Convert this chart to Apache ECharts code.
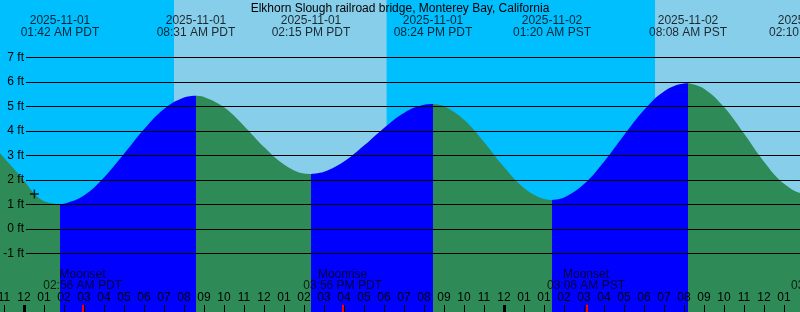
<!DOCTYPE html>
<html>
<head>
<meta charset="utf-8">
<script src="https://cdn.jsdelivr.net/npm/echarts@6/dist/echarts.min.js"></script>
<style>
html, body { margin: 0; padding: 0; background: #fff; }
#tideChart { width: 800px; height: 312px; }
</style>
</head>
<body>
<div id="tideChart"></div>
<script>
//  hours counted from 2025-11-01 00:00 PDT
const tideHours = [-2, -1, 0, 0.5, 1, 1.8, 2, 3, 4, 5, 6, 7, 8, 8.6, 9, 10, 11, 12, 13, 14, 14.35,
    15, 16, 17, 18, 19, 20, 20.45, 21, 22, 23, 24, 25, 26, 26.4, 27, 28, 29, 30, 31, 32, 33, 33.2,
    34, 35, 36, 37, 38, 39, 39.2];
const tideFeet = [3.85, 2.9, 1.97, 1.45, 1.13, 1.0, 1.02, 1.36, 2.09, 3.06, 4.06, 4.89, 5.36, 5.43, 5.38, 4.96, 4.2, 3.34, 2.63, 2.26, 2.24,
    2.33, 2.75, 3.4, 4.12, 4.73, 5.06, 5.09, 5.0, 4.45, 3.54, 2.52, 1.67, 1.22, 1.18, 1.28, 1.83, 2.74, 3.82, 4.85, 5.61, 5.93, 5.94,
    5.72, 4.97, 3.89, 2.74, 1.84, 1.43, 1.42];

//  高低潮
const turnHours = [1.8, 8.6, 14.35, 20.45, 26.4, 33.2, 39.2];
const turnDates = ['2025-11-01', '2025-11-01', '2025-11-01', '2025-11-01', '2025-11-02', '2025-11-02', '2025-11-02'];
const turnClock = ['01:42 AM PDT', '08:31 AM PDT', '02:15 PM PDT', '08:24 PM PDT', '01:20 AM PST', '08:08 AM PST', '02:10 PM PST'];

//  白天
const sunriseHours = [7.5, 31.55];
const sunsetHours = [18.13, 41.1];

//  月亮
const moonHours = [2.93, 15.93, 28.1, 40.3];
const moonNames = ['Moonset', 'Moonrise', 'Moonset', 'Moonrise'];
const moonClock = ['02:56 AM PDT', '03:56 PM PDT', '03:06 AM PST', '03:18 PM PST'];

//  时间刻度
const hourTicks = [-1, 0, 1, 2, 3, 4, 5, 6, 7, 8, 9, 10, 11, 12, 13, 14, 15, 16, 17, 18, 19,
    20, 21, 22, 23, 24, 25, 26, 27, 28, 29, 30, 31, 32, 33, 34, 35, 36, 37, 38];
const hourLabels = ['11', '12', '01', '02', '03', '04', '05', '06', '07', '08', '09', '10', '11', '12', '01', '02', '03', '04', '05', '06', '07',
    '08', '09', '10', '11', '12', '01', '01', '02', '03', '04', '05', '06', '07', '08', '09', '10', '11', '12', '01'];
const midnightHours = [0, 24];

const markHour = 0.52;
const markFeet = 1.42;

const fontFamily = 'Liberation Sans';
const xMin = -1.2, xMax = 38.8;
const yMin = -3.395, yMax = 9.34;
const chartHeight = 312;
//  像素 -> 英尺 (只用于放文字)
const pxToFeet = px => yMax - px * (yMax - yMin) / chartHeight;

const points = tideHours.map((h, i) => [h, tideFeet[i]]);
const bounds = [tideHours[0]].concat(turnHours);
const waterSeries = [];
for (let k = 0; k < bounds.length - 1; k++) {
    const seg = points.filter(p => p[0] >= bounds[k] && p[0] <= bounds[k + 1]);
    const rising = seg[seg.length - 1][1] > seg[0][1];
    waterSeries.push({
        type: 'line',
        xAxisIndex: 0,
        yAxisIndex: 0,
        data: seg,
        smooth: 0.4,
        symbol: 'none',
        silent: true,
        lineStyle: {width: 0},
        areaStyle: {origin: 'start', color: rising ? '#0000ff' : '#2e8b57', opacity: 1},
        z: 2,
    });
}

const textStyle = {color: '#000', fontSize: 12, fontFamily: fontFamily};

//  底部小刻度, 自己画矩形
const tickSeries = function (hours, color, width, dx) {
    return {
        type: 'custom',
        xAxisIndex: 0,
        yAxisIndex: 0,
        silent: true,
        z: 9,
        data: hours.map(h => [h]),
        renderItem: function (params, api) {
            const pt = api.coord([api.value(0), 0]);
            const bottom = params.coordSys.y + params.coordSys.height;
            return {
                type: 'rect',
                shape: {x: Math.round(pt[0] + dx - width / 2), y: bottom - 7, width: width, height: 7},
                style: {fill: color},
            };
        },
    };
};

const myChart = echarts.init(document.getElementById('tideChart'));
myChart.setOption({
    animation: false,
    title: {
        text: 'Elkhorn Slough railroad bridge, Monterey Bay, California',
        left: 'center',
        top: 2.5,
        padding: 0,
        textStyle: Object.assign({fontWeight: 'normal'}, textStyle),
    },
    grid: [
        {left: 0, right: 0, top: 0, bottom: 0, show: true, backgroundColor: '#00bfff', borderWidth: 0, outerBoundsMode: 'none', containLabel: false},
        {left: 26, right: 0, top: 57.33, height: 196, outerBoundsMode: 'none', containLabel: false},
    ],
    xAxis: [
        {
            gridIndex: 0, type: 'value', min: xMin, max: xMax, position: 'bottom', z: 5,
            axisLine: {show: false, onZero: false},
            splitLine: {show: false},
            axisTick: {show: false},
            axisLabel: Object.assign({
                inside: true, margin: 14, verticalAlign: 'middle', customValues: hourTicks,
                formatter: v => hourLabels[hourTicks.indexOf(v)],
            }, textStyle),
        },
        {gridIndex: 1, type: 'value', min: 0, max: 1, show: false, axisLine: {onZero: false}},
    ],
    yAxis: [
        {gridIndex: 0, type: 'value', min: yMin, max: yMax, show: false},
        {
            gridIndex: 1, type: 'value', min: -1, max: 7, interval: 1, z: 5,
            axisLine: {show: false},
            axisTick: {show: false},
            splitLine: {show: true, lineStyle: {color: '#000', width: 1}},
            axisLabel: Object.assign({formatter: '{value} ft', margin: 2}, textStyle),
        },
    ],
    series: [
        //  天空
        {
            type: 'line',
            xAxisIndex: 0,
            yAxisIndex: 0,
            data: [],
            z: 1,
            markArea: {
                silent: true,
                itemStyle: {color: '#87ceeb', opacity: 1},
                data: sunriseHours.map((h, i) => [{xAxis: h}, {xAxis: Math.min(sunsetHours[i], xMax)}]),
            },
        },
    ].concat(waterSeries, [
        tickSeries(hourTicks, '#000', 1, 0),
        tickSeries(midnightHours, '#000', 3, 0),
        tickSeries(moonHours.filter(h => h < xMax), '#ff0000', 2, 0.5),
        //  潮汐时间
        {
            type: 'scatter',
            xAxisIndex: 0,
            yAxisIndex: 0,
            clip: false,
            silent: true,
            z: 8,
            symbolSize: 1,
            itemStyle: {color: 'transparent'},
            data: turnHours.map(h => [h, pxToFeet(27)]),
            label: Object.assign({
                show: true, position: 'inside', lineHeight: 12,
                formatter: p => turnDates[p.dataIndex] + '\n' + turnClock[p.dataIndex],
            }, textStyle),
        },
        //  月出月落
        {
            type: 'scatter',
            xAxisIndex: 0,
            yAxisIndex: 0,
            clip: false,
            silent: true,
            z: 8,
            symbolSize: 1,
            itemStyle: {color: 'transparent'},
            data: moonHours.map(h => [h, pxToFeet(280.5)]),
            label: Object.assign({
                show: true, position: 'inside', lineHeight: 11,
                formatter: p => moonNames[p.dataIndex] + '\n' + moonClock[p.dataIndex],
            }, textStyle),
        },
        //  十字
        {
            type: 'scatter',
            xAxisIndex: 0,
            yAxisIndex: 0,
            silent: true,
            z: 8,
            symbol: 'path://M0,3.75H9V5.25H0Z M3.75,0H5.25V9H3.75Z',
            symbolSize: 9,
            itemStyle: {color: '#000'},
            data: [[markHour, markFeet]],
        },
    ]),
});
</script>
</body>
</html>
